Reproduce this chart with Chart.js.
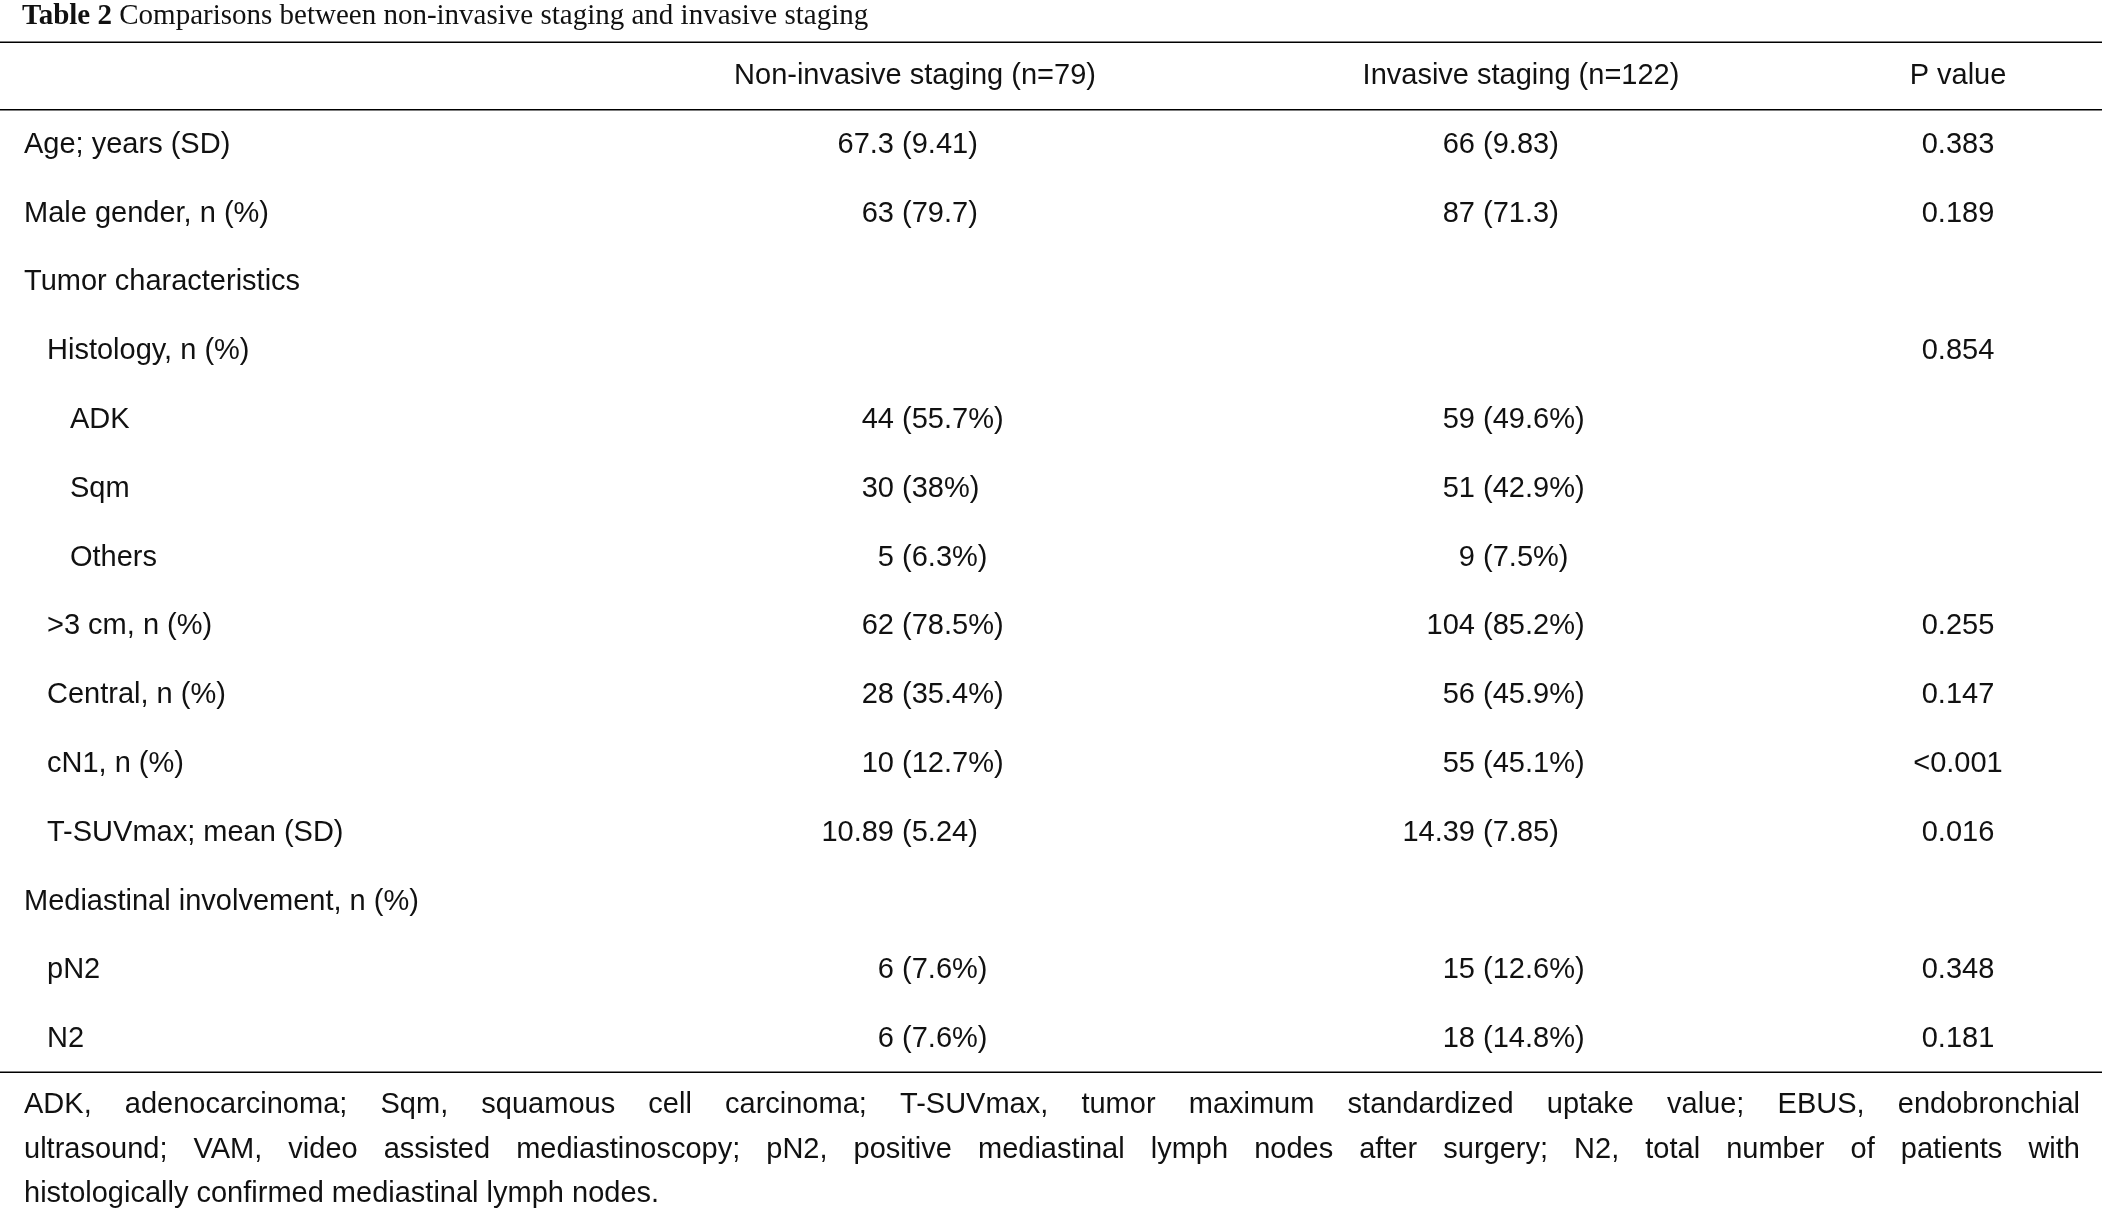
<!DOCTYPE html>
<html>
<head>
<meta charset="utf-8">
<script src="https://cdn.jsdelivr.net/npm/chart.js@4.4.1/dist/chart.umd.min.js"></script>
<style>
  html, body { margin: 0; padding: 0; background: #fff; }
  #wrap { width: 2102px; height: 1214px; }
</style>
</head>
<body>
<div id="wrap"><canvas id="tabela"></canvas></div>
<script>
// conteudo da tabela
const titulo = ['Table 2', ' Comparisons between non-invasive staging and invasive staging'];
const cabecalhos = ['Non-invasive staging (n=79)', 'Invasive staging (n=122)', 'P value'];
const rotulos = ['Age; years (SD)', 'Male gender, n (%)', 'Tumor characteristics', 'Histology, n (%)',
    'ADK', 'Sqm', 'Others', '>3 cm, n (%)', 'Central, n (%)', 'cN1, n (%)', 'T-SUVmax; mean (SD)',
    'Mediastinal involvement, n (%)', 'pN2', 'N2'];
const recuos = [0, 0, 0, 1, 2, 2, 2, 1, 1, 1, 1, 0, 1, 1];
const naoInvasivo = ['67.3 (9.41)', '63 (79.7)', '', '', '44 (55.7%)', '30 (38%)', '5 (6.3%)',
    '62 (78.5%)', '28 (35.4%)', '10 (12.7%)', '10.89 (5.24)', '', '6 (7.6%)', '6 (7.6%)'];
const invasivo = ['66 (9.83)', '87 (71.3)', '', '', '59 (49.6%)', '51 (42.9%)', '9 (7.5%)',
    '104 (85.2%)', '56 (45.9%)', '55 (45.1%)', '14.39 (7.85)', '', '15 (12.6%)', '18 (14.8%)'];
const pValores = ['0.383', '0.189', '', '0.854', '', '', '', '0.255', '0.147', '<0.001', '0.016', '', '0.348', '0.181'];
const notas = [
    'ADK, adenocarcinoma; Sqm, squamous cell carcinoma; T-SUVmax, tumor maximum standardized uptake value; EBUS, endobronchial',
    'ultrasound; VAM, video assisted mediastinoscopy; pN2, positive mediastinal lymph nodes after surgery; N2, total number of patients with',
    'histologically confirmed mediastinal lymph nodes.'
];

// posicoes das colunas (unidades da escala x) e linhas (unidades da escala y)
const colRotulo = 24, passoRecuo = 23;
const colNaoInv = 894, colInv = 1475, colP = 1958;
const centroNaoInv = 915, centroInv = 1521;
const linhaTitulo = -0.87, linhaTopo = -0.49, linhaCab = 0.49, linhaFim = 14.48;
const linhasNota = [14.96, 15.61, 16.25];
const margemDir = 2080;

const fonte = '29px "Liberation Sans", Arial, sans-serif';

const pontos = rotulos.map((r, i) => ({ x: colNaoInv, y: i + 1 }));

const pluginTabela = {
    id: 'tabela',
    afterDatasetsDraw(chart) {
        const ctx = chart.ctx;
        const sx = chart.scales.x, sy = chart.scales.y;
        const X = v => sx.getPixelForValue(v);
        const Y = v => sy.getPixelForValue(v);
        ctx.save();
        ctx.fillStyle = '#111';
        ctx.textBaseline = 'middle';

        // titulo
        ctx.textAlign = 'left';
        ctx.font = 'bold 29px "Liberation Serif", serif';
        ctx.fillText(titulo[0], X(colRotulo - 2), Y(linhaTitulo));
        const w = ctx.measureText(titulo[0]).width;
        ctx.font = '29px "Liberation Serif", serif';
        ctx.fillText(titulo[1], X(colRotulo - 2) + w, Y(linhaTitulo));

        // linhas horizontais
        ctx.strokeStyle = '#000';
        ctx.lineWidth = 1.6;
        [linhaTopo, linhaCab, linhaFim].forEach(l => {
            ctx.beginPath();
            ctx.moveTo(X(0), Y(l));
            ctx.lineTo(X(2102), Y(l));
            ctx.stroke();
        });

        ctx.font = fonte;
        // cabecalho
        ctx.textAlign = 'center';
        ctx.fillText(cabecalhos[0], X(centroNaoInv), Y(0));
        ctx.fillText(cabecalhos[1], X(centroInv), Y(0));
        ctx.fillText(cabecalhos[2], X(colP), Y(0));

        // valores alinhados pelo espaco
        function celula(txt, ancora, y) {
            if (!txt) return;
            const k = txt.indexOf(' ');
            ctx.textAlign = 'right';
            ctx.fillText(txt.slice(0, k), X(ancora), y);
            ctx.textAlign = 'left';
            ctx.fillText(txt.slice(k), X(ancora), y);
        }

        chart.getDatasetMeta(0).data.forEach((pt, i) => {
            const y = pt.y;
            ctx.textAlign = 'left';
            ctx.fillText(rotulos[i], X(colRotulo + recuos[i] * passoRecuo), y);
            celula(naoInvasivo[i], colNaoInv, y);
            celula(invasivo[i], colInv, y);
            if (pValores[i]) {
                ctx.textAlign = 'center';
                ctx.fillText(pValores[i], X(colP), y);
            }
        });

        // nota de rodape justificada
        ctx.textAlign = 'left';
        notas.forEach((n, i) => {
            const y = Y(linhasNota[i]);
            if (i === notas.length - 1) {
                ctx.fillText(n, X(colRotulo), y);
                return;
            }
            const palavras = n.split(' ');
            const larg = palavras.reduce((a, p) => a + ctx.measureText(p).width, 0);
            const esp = (X(margemDir) - X(colRotulo) - larg) / (palavras.length - 1);
            let x = X(colRotulo);
            palavras.forEach(p => {
                ctx.fillText(p, x, y);
                x += ctx.measureText(p).width + esp;
            });
        });
        ctx.restore();
    }
};

new Chart(document.getElementById('tabela'), {
    type: 'scatter',
    data: { datasets: [{ data: pontos, pointRadius: 0, pointHoverRadius: 0 }] },
    options: {
        responsive: true,
        maintainAspectRatio: false,
        animation: false,
        events: [],
        layout: { padding: 0 },
        plugins: { legend: { display: false }, tooltip: { enabled: false } },
        scales: {
            x: { type: 'linear', min: 0, max: 2102, display: false },
            y: { type: 'linear', min: -76 / 68.8, max: (1214 - 76) / 68.8, reverse: true, display: false }
        }
    },
    plugins: [pluginTabela]
});
</script>
</body>
</html>
